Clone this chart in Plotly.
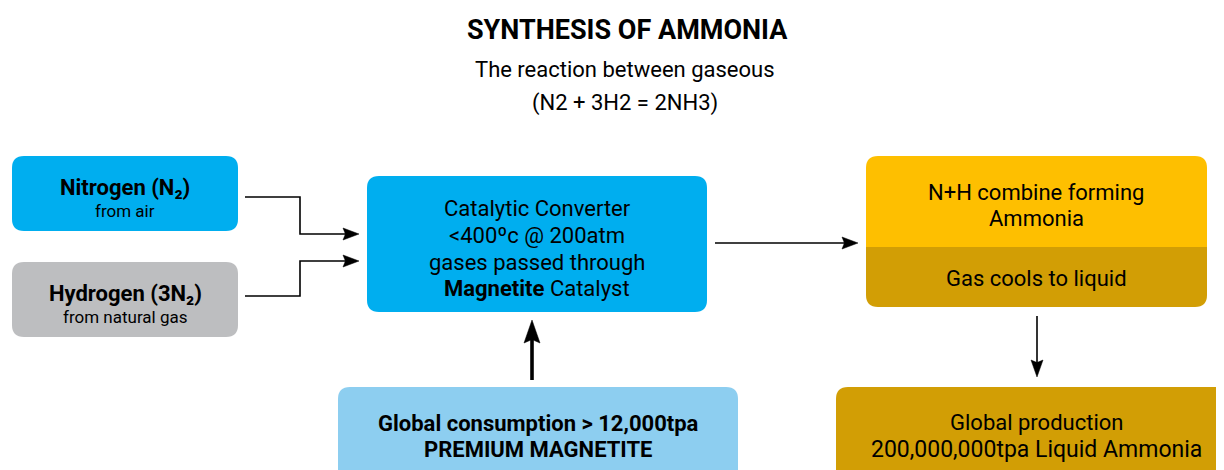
import plotly.graph_objects as go

# ---- content ----
title_text = "SYNTHESIS OF AMMONIA"
subtitle_lines = ["The reaction between gaseous", "(N2 + 3H2 = 2NH3)"]

nitrogen_lines = ["<b>Nitrogen (N₂)</b>", "from air"]
hydrogen_lines = ["<b>Hydrogen (3N₂)</b>", "from natural gas"]
converter_lines = ["Catalytic Converter", "<400ºc @ 200atm", "gases passed through",
                   "<b>Magnetite</b> Catalyst"]
combine_lines = ["N+H combine forming", "Ammonia"]
cool_lines = ["Gas cools to liquid"]
consumption_lines = ["<b>Global consumption > 12,000tpa</b>", "<b>PREMIUM MAGNETITE</b>"]
production_lines = ["Global production", "200,000,000tpa Liquid Ammonia"]

# ---- layout geometry (pixels) ----
W, H = 1224, 470
OFF = 8  # page body margin
FONT = "Roboto"

C_CYAN = "#00AEEF"
C_GRAY = "#BDBEC0"
C_LBLUE = "#8DCEF0"
C_YELLOW = "#FEBF00"
C_GOLD = "#D29E05"


def rrect(x0, y0, x1, y1, r=12, top=True, bottom=True):
    rt = r if top else 0
    rb = r if bottom else 0
    p = f"M{x0+rt},{y0} L{x1-rt},{y0} "
    p += f"Q{x1},{y0} {x1},{y0+rt} " if rt else ""
    p += f"L{x1},{y1-rb} "
    p += f"Q{x1},{y1} {x1-rb},{y1} " if rb else ""
    p += f"L{x0+rb},{y1} "
    p += f"Q{x0},{y1} {x0},{y1-rb} " if rb else ""
    p += f"L{x0},{y0+rt} "
    p += f"Q{x0},{y0} {x0+rt},{y0} " if rt else ""
    return p + "Z"


shapes = []
def box(x0, y0, x1, y1, color, **kw):
    shapes.append(dict(type="path", path=rrect(x0, y0, x1, y1, **kw), xref="x", yref="y",
                       fillcolor=color, line=dict(width=0), layer="below"))

box(12, 156, 238, 231, C_CYAN)
box(12, 262, 238, 337, C_GRAY)
box(367, 176, 707, 312, C_CYAN)
box(866, 156, 1207, 247, C_YELLOW, bottom=False)
box(866, 247, 1207, 307, C_GOLD, top=False)
box(338, 387, 738, 520, C_LBLUE)
box(836, 387, 1260, 520, C_GOLD)


def line(path, width=1.6):
    shapes.append(dict(type="path", path=path, xref="x", yref="y",
                       line=dict(color="black", width=width)))


def head(tx, ty, dx, dy, length, width):
    # slightly notched arrowhead pointing in direction (dx, dy)
    nx, ny = -dy, dx
    bx, by = tx - dx * length, ty - dy * length
    mx, my = tx - dx * length * 0.85, ty - dy * length * 0.85
    p = (f"M{tx},{ty} L{bx + nx*width/2},{by + ny*width/2} L{mx},{my} "
         f"L{bx - nx*width/2},{by - ny*width/2} Z")
    shapes.append(dict(type="path", path=p, xref="x", yref="y",
                       fillcolor="black", line=dict(color="black", width=0.5)))


# elbow connectors
line("M245,197 H300 V234 H346")
head(359, 234, 1, 0, 16, 12)
line("M245,296 H300 V261 H346")
head(359, 261, 1, 0, 16, 12)
# converter -> combine
line("M715,243 H845")
head(858, 243, 1, 0, 16, 12)
# cools -> production
line("M1037,316 V364")
head(1037, 377, 0, 1, 17, 12)
# consumption -> converter (thick)
line("M532,380 V336", width=3.6)
head(532, 320, 0, -1, 23, 16)

annotations = []
def txt(x, y, s, size):
    annotations.append(dict(x=x, y=y, xref="x", yref="y", text=s, showarrow=False,
                            font=dict(family=FONT, size=size, color="black"),
                            xanchor="center", yanchor="middle"))

# titles
txt(627, 30, f"<b>{title_text}</b>", 27)
txt(625, 69, subtitle_lines[0], 22)
txt(625, 103, subtitle_lines[1], 22)

# box texts
txt(125, 187, nitrogen_lines[0], 22)
txt(125, 211, nitrogen_lines[1], 17)
txt(125, 293, hydrogen_lines[0], 22)
txt(125, 317, hydrogen_lines[1], 17)
for s, y in zip(converter_lines, [208, 235, 262, 288]):
    txt(537, y, s, 22)
for s, y in zip(combine_lines, [192, 218]):
    txt(1036, y, s, 22)
txt(1036, 278, cool_lines[0], 22)
for s, y in zip(consumption_lines, [423, 449]):
    txt(538, y, s, 22)
txt(1036, 422, production_lines[0], 22)
txt(1036, 449, production_lines[1], 23)

fig = go.Figure()
fig.update_layout(
    width=W - OFF, height=H - OFF, margin=dict(l=0, r=0, t=0, b=0),
    paper_bgcolor="white", plot_bgcolor="white",
    xaxis=dict(range=[OFF, W], visible=False, fixedrange=True),
    yaxis=dict(range=[H, OFF], visible=False, fixedrange=True),
    shapes=shapes, annotations=annotations, showlegend=False,
)
fig.write_html("out.html", config={"displayModeBar": False},
               post_script="document.documentElement.style.overflow='hidden';")
